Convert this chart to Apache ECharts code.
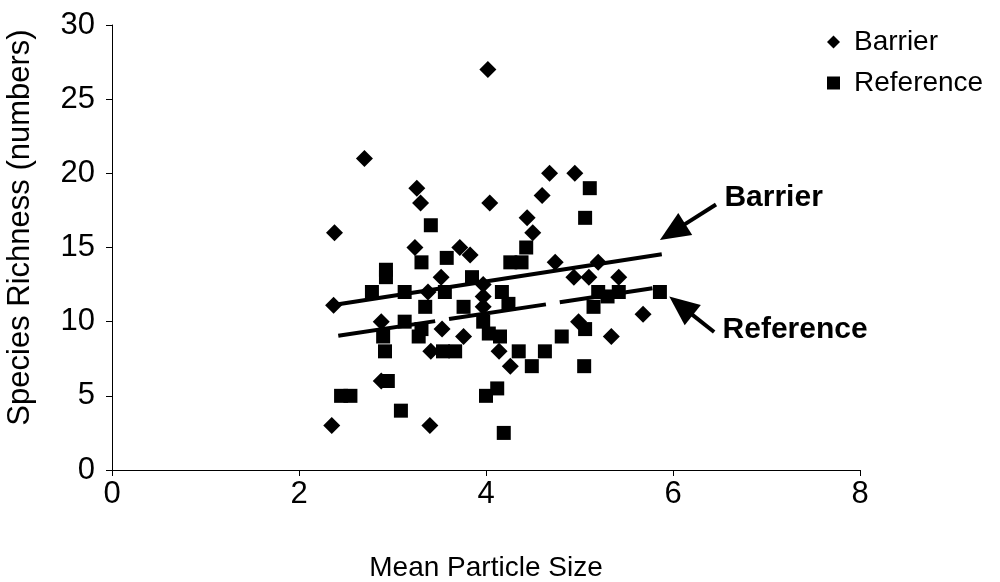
<!DOCTYPE html>
<html><head><meta charset="utf-8">
<script src="https://cdn.jsdelivr.net/npm/echarts@6/dist/echarts.min.js"></script>
<style>html,body{margin:0;padding:0;background:#fff}#c{width:1000px;height:582px}</style>
</head><body><div id="c"></div>
<script>
const barrierPoints = [[2.35,3],[2.38,16],[2.37,11.1],[2.7,21],[2.88,10],[2.88,6],[3.26,19],[3.3,18],[3.24,15],[3.4,3],[3.41,8],[3.38,12],[3.52,13],[3.53,9.5],[3.72,15],[3.83,14.5],[3.76,9],[3.97,12.5],[3.97,11.7],[3.97,11],[4.02,27],[4.04,18],[4.14,8],[4.26,7],[4.44,17],[4.5,16],[4.6,18.5],[4.68,20],[4.95,20],[4.74,14],[5.2,14],[4.94,13],[5.1,13],[5.42,13],[4.99,10],[5.34,9],[5.68,10.5]];
const referencePoints = [[2.45,5],[2.55,5],[2.78,12],[2.93,13.5],[2.93,13],[2.95,6],[2.9,9],[2.92,8],[3.09,4],[3.13,12],[3.13,10],[3.31,14],[3.35,11],[3.31,9.5],[3.28,9],[3.41,16.5],[3.56,12],[3.54,8],[3.67,8],[3.58,14.3],[3.76,11],[3.85,13],[4.17,12],[4.24,11.2],[3.97,10],[4.03,9.2],[4.15,9],[4.35,8],[4.26,14],[4.38,14],[4.43,15],[4.63,8],[4.49,7],[4.81,9],[5.05,7],[5.06,9.5],[4.0,5],[4.12,5.5],[4.19,2.5],[5.06,17],[5.11,19],[5.2,12],[5.42,12],[5.86,12],[5.15,11],[5.3,11.7]];
const barrierTrend = [[2.35,11.1],[5.88,14.55]];
const referenceTrend = [[2.42,9.05],[5.78,12.25]];
const xTicks = [0,2,4,6,8];
const yTicks = [0,5,10,15,20,25,30];
const seriesNames = ['Barrier','Reference'];
const annotations = [
  {text:'Barrier', tail:[6.46,17.9], tip:[5.86,15.5], label:[6.55,18.34]},
  {text:'Reference', tail:[6.44,9.3], tip:[5.96,11.7], label:[6.53,9.44]}
];

const FONT = '"Liberation Sans", Arial, sans-serif';
const chart = echarts.init(document.getElementById('c'), null, {renderer:'canvas'});
chart.setOption({
  animation:false,
  backgroundColor:'#fff',
  grid:{left:112, right:140, top:25, bottom:112, containLabel:false, outerBoundsMode:'none'},
  legend:{
    orient:'vertical', left:822, top:22, itemGap:11, itemWidth:13, itemHeight:13,
    textStyle:{fontFamily:FONT, fontSize:28, color:'#000', lineHeight:30, padding:[0,0,0,9]},
    data:[{name:seriesNames[0], icon:'diamond'},{name:seriesNames[1], icon:'rect'}]
  },
  xAxis:{
    type:'value', min:xTicks[0], max:xTicks[xTicks.length-1], interval:xTicks[1]-xTicks[0],
    name:'Mean Particle Size', nameLocation:'middle', nameGap:84,
    nameTextStyle:{fontFamily:FONT, fontSize:28, color:'#000'},
    axisLine:{show:true, lineStyle:{color:'#000', width:1}},
    axisTick:{show:true, inside:false, length:6, lineStyle:{color:'#000'}},
    axisLabel:{fontFamily:FONT, fontSize:31, color:'#000', margin:9},
    splitLine:{show:false}
  },
  yAxis:{
    type:'value', min:yTicks[0], max:yTicks[yTicks.length-1], interval:yTicks[1]-yTicks[0],
    name:'Species Richness (numbers)', nameLocation:'middle', nameGap:76,
    nameTextStyle:{fontFamily:FONT, fontSize:31, color:'#000', padding:[0,0,0,40]},
    axisLine:{show:true, lineStyle:{color:'#000', width:1}},
    axisTick:{show:true, inside:false, length:6, lineStyle:{color:'#000'}},
    axisLabel:{fontFamily:FONT, fontSize:31, color:'#000', margin:17},
    splitLine:{show:false}
  },
  series:[
    {name:seriesNames[0], type:'scatter', symbol:'diamond', symbolSize:17, itemStyle:{color:'#000', opacity:1}, data:barrierPoints, z:3},
    {name:seriesNames[1], type:'scatter', symbol:'rect', symbolSize:14, itemStyle:{color:'#000', opacity:1}, data:referencePoints, z:3},
    {name:'BarrierTrend', type:'line', data:barrierTrend, symbol:'none', lineStyle:{color:'#000', width:4}, z:4, silent:true},
    {name:'ReferenceTrend', type:'line', data:referenceTrend, symbol:'none', lineStyle:{color:'#000', width:4, type:[98,14]}, z:4, silent:true}
  ]
});

const g = [];
annotations.forEach(a => {
  const t = chart.convertToPixel({gridIndex:0}, a.tail);
  const p = chart.convertToPixel({gridIndex:0}, a.tip);
  const l = chart.convertToPixel({gridIndex:0}, a.label);
  const dx = p[0]-t[0], dy = p[1]-t[1];
  const len = Math.hypot(dx, dy);
  const ux = dx/len, uy = dy/len;
  const headL = 30, headW = 13;
  const bx = p[0]-ux*headL, by = p[1]-uy*headL;
  g.push({type:'line', shape:{x1:t[0], y1:t[1], x2:bx+ux*4, y2:by+uy*4}, style:{stroke:'#000', lineWidth:4}, z:10});
  g.push({type:'polygon', shape:{points:[[p[0],p[1]],[bx-uy*headW, by+ux*headW],[bx+uy*headW, by-ux*headW]]}, style:{fill:'#000'}, z:10});
  g.push({type:'text', x:l[0], y:l[1], style:{text:a.text, font:'bold 30px ' + FONT, fill:'#000', textVerticalAlign:'middle', verticalAlign:'middle'}, z:10});
});
chart.setOption({graphic:g});
</script>
</body></html>
